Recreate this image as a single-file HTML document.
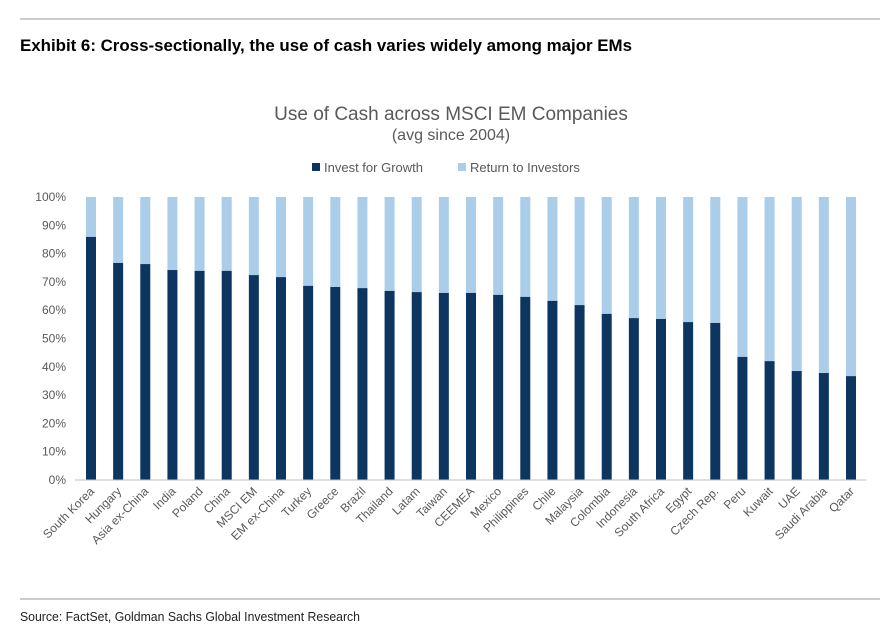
<!DOCTYPE html>
<html><head><meta charset="utf-8"><style>
body{margin:0;background:#fff;width:896px;height:631px;overflow:hidden;font-family:"Liberation Sans",sans-serif;}
</style></head><body>
<svg width="896" height="631" xmlns="http://www.w3.org/2000/svg">
<line x1="20" y1="19" x2="880" y2="19" stroke="#999" stroke-width="1"/>
<text x="20" y="51" font-family="'Liberation Sans Narrow','Liberation Sans',sans-serif" font-weight="bold" font-size="17" fill="#000" textLength="612" lengthAdjust="spacingAndGlyphs">Exhibit 6: Cross-sectionally, the use of cash varies widely among major EMs</text>
<text x="451" y="120" text-anchor="middle" font-size="19" fill="#595959">Use of Cash across MSCI EM Companies</text>
<text x="451" y="140" text-anchor="middle" font-size="16" fill="#595959">(avg since 2004)</text>
<g>
<rect x="312" y="163" width="8" height="8" fill="#0c3560"/>
<text x="324" y="172" font-size="13" fill="#595959">Invest for Growth</text>
<rect x="458" y="163" width="8" height="8" fill="#aacdea"/>
<text x="470" y="172" font-size="13" fill="#595959">Return to Investors</text>
</g>
<g id="plot"></g>
<line x1="20" y1="599" x2="880" y2="599" stroke="#999" stroke-width="1"/>
<text x="20" y="621" font-family="'Liberation Sans Narrow','Liberation Sans',sans-serif" font-size="13" fill="#222" textLength="340" lengthAdjust="spacingAndGlyphs">Source: FactSet, Goldman Sachs Global Investment Research</text>
</svg>
<script>
const categories=["South Korea","Hungary","Asia ex-China","India","Poland","China","MSCI EM","EM ex-China","Turkey","Greece","Brazil","Thailand","Latam","Taiwan","CEEMEA","Mexico","Philippines","Chile","Malaysia","Colombia","Indonesia","South Africa","Egypt","Czech Rep.","Peru","Kuwait","UAE","Saudi Arabia","Qatar"];
const investValues=[85.9,76.7,76.3,74.2,73.9,73.9,72.4,71.7,68.6,68.2,67.8,66.8,66.4,66.1,66.1,65.4,64.7,63.3,61.8,58.7,57.2,56.9,55.8,55.5,43.5,42.0,38.5,37.8,36.7];
const yTicks=[0,10,20,30,40,50,60,70,80,90,100];
const NS="http://www.w3.org/2000/svg";
const g=document.getElementById('plot');
const y0=480,y1=197,xFirst=91,xLast=851;
const y=v=>y0-(v/100)*(y0-y1);
const x=i=>xFirst+i*(xLast-xFirst)/(categories.length-1);
function mk(t,a){const e=document.createElementNS(NS,t);for(const k in a)e.setAttribute(k,a[k]);g.appendChild(e);return e;}
yTicks.forEach(t=>{
 const e=mk('text',{x:66,y:y(t)+4,'text-anchor':'end','font-size':12,fill:'#595959'});
 e.textContent=t+'%';
 
 
});
const bw=10;
categories.forEach((c,i)=>{
 const v=investValues[i];
 const r=mk('rect',{x:x(i)-bw/2,y:y(100),width:bw,height:y(v)-y(100),fill:'#aacdea'});
 
 
 const b=mk('rect',{x:x(i)-bw/2,y:y(v),width:bw,height:y0-y(v),fill:'#0c3560'});
 
 
 const t=mk('text',{x:x(i)+4,y:492,'text-anchor':'end','font-size':12,fill:'#595959',transform:`rotate(-45 ${x(i)+4} 492)`});
 t.textContent=c;
 
 
});
const ax=mk('line',{x1:75,y1:y0,x2:866,y2:y0,stroke:'#bfbfbf','stroke-width':1});


</script>
</body></html>
